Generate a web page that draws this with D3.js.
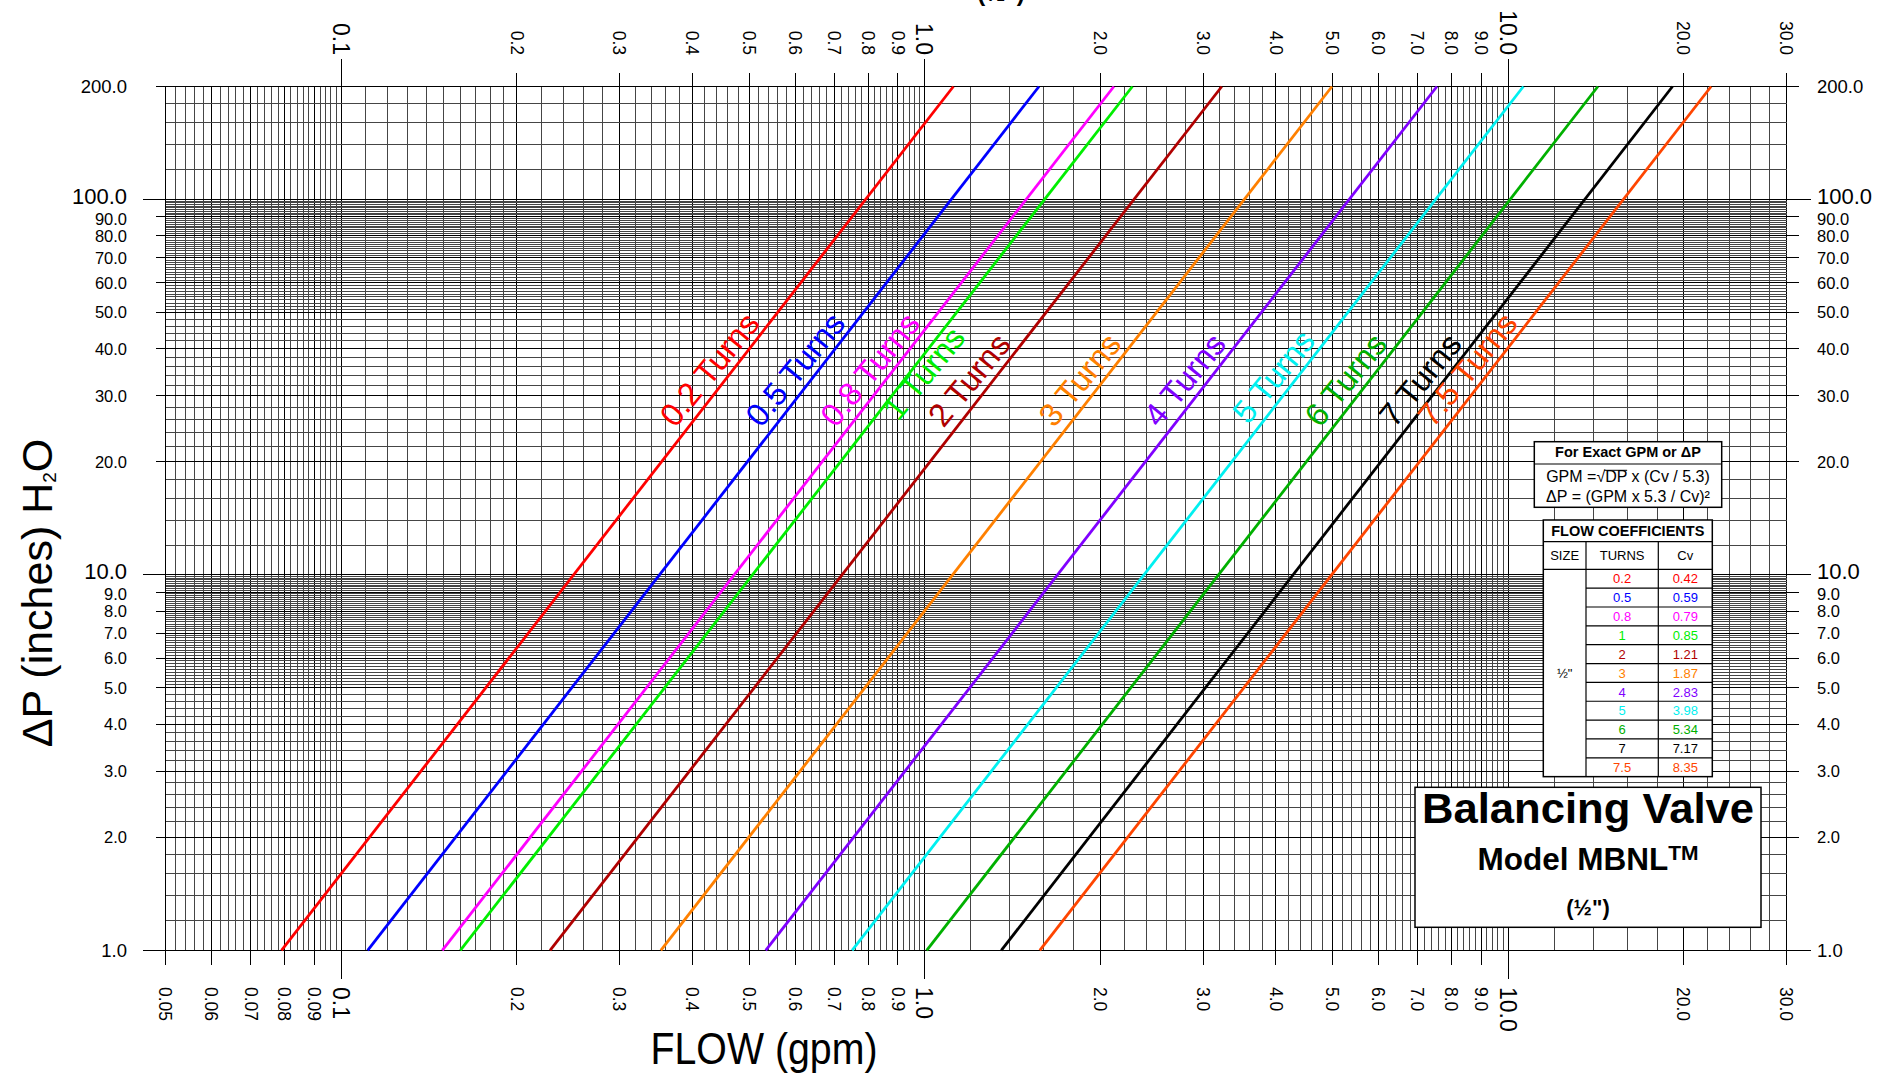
<!DOCTYPE html>
<html>
<head>
<meta charset="utf-8">
<script src="https://cdn.jsdelivr.net/npm/d3@7"></script>
<style>
  body { margin: 0; background: #fff; }
  text { font-family: "Liberation Sans", Arial, sans-serif; fill: #000; }
</style>
</head>
<body>
<div id="chart"></div>
<script>
// valve settings and flow coefficients (from the table)
const turns = ["0.2", "0.5", "0.8", "1", "2", "3", "4", "5", "6", "7", "7.5"];
const cvValues = ["0.42", "0.59", "0.79", "0.85", "1.21", "1.87", "2.83", "3.98", "5.34", "7.17", "8.35"];

// flow (gpm) where each line meets dP = 1 and dP = 200
const flowAtLow = [0.079, 0.111, 0.149, 0.160, 0.228, 0.353, 0.534, 0.751, 1.008, 1.353, 1.575];
const flowAtHigh = [1.12, 1.57, 2.11, 2.27, 3.23, 4.99, 7.55, 10.62, 14.25, 19.13, 22.28];
const dpLow = 1, dpHigh = 200;

// dP where each "n Turns" label starts along its line
const labelDp = [24.5, 24.5, 24.5, 25.5, 24.5, 24.5, 24.5, 25, 24.5, 24.5, 24.5];

// axis ticks
const xTicks = [0.05, 0.06, 0.07, 0.08, 0.09, 0.1, 0.2, 0.3, 0.4, 0.5, 0.6, 0.7, 0.8, 0.9,
  1, 2, 3, 4, 5, 6, 7, 8, 9, 10, 20, 30];
const xTopTicks = xTicks.filter(v => v >= 0.1);
const xMajor = [0.1, 1, 10];
const yTicks = [1, 2, 3, 4, 5, 6, 7, 8, 9, 10, 20, 30, 40, 50, 60, 70, 80, 90, 100, 200];
const yMajor = [1, 10, 100];

// grid spacing per range: [from, to, step]
const xGridRuns = [[0.05, 0.1, 0.002], [0.1, 0.2, 0.01], [0.2, 1, 0.02], [1, 10, 0.2], [10, 30, 2]];
const yGridRuns = [[1, 5, 0.2], [5, 10, 0.1], [10, 50, 2], [50, 100, 1], [100, 200, 20]];

const colors = ["#ff0000", "#0000ff", "#ff00ff", "#00ee00", "#b00000", "#ff8000",
  "#8000ff", "#00f0f0", "#00b000", "#000000", "#ff4500"];

const W = 1896, H = 1078;
const svg = d3.select("#chart").append("svg")
  .attr("width", W).attr("height", H)
  .style("display", "block");
svg.append("rect").attr("width", W).attr("height", H).attr("fill", "#fff");

const x = d3.scaleLog().domain([0.05, 30]).range([165.6, 1786.5]);
const y = d3.scaleLog().domain([1, 200]).range([950.4, 86.5]);

function runValues(runs) {
  const out = [];
  runs.forEach(([a, b, s]) => {
    d3.range(Math.round(a / s), Math.round(b / s) + 1).forEach(i => out.push(+(i * s).toFixed(4)));
  });
  return Array.from(new Set(out));
}
const fmt = v => v < 0.1 ? v.toFixed(2) : v.toFixed(1);

// grid
const grid = svg.append("g").attr("shape-rendering", "crispEdges");
runValues(xGridRuns).forEach(v => {
  const major = xTicks.some(t => Math.abs(t - v) < 1e-6);
  grid.append("line")
    .attr("x1", x(v)).attr("x2", x(v)).attr("y1", y(200)).attr("y2", y(1))
    .attr("stroke", major ? "#000" : "#454545").attr("stroke-width", 1);
});
runValues(yGridRuns).forEach(v => {
  const major = yTicks.some(t => Math.abs(t - v) < 1e-6);
  grid.append("line")
    .attr("y1", y(v)).attr("y2", y(v)).attr("x1", x(0.05)).attr("x2", x(30))
    .attr("stroke", major ? "#000" : "#454545").attr("stroke-width", 1);
});

// axes
const axisG = svg.append("g").attr("shape-rendering", "crispEdges");
xTicks.forEach(v => {
  const big = xMajor.includes(v);
  axisG.append("line").attr("x1", x(v)).attr("x2", x(v))
    .attr("y1", y(1)).attr("y2", y(1) + (big ? 29 : 15)).attr("stroke", "#000");
  svg.append("text")
    .attr("transform", `translate(${x(v)},987) rotate(90)`)
    .attr("dy", "0.36em")
    .attr("font-size", big ? 23 : 17.5)
    .text(fmt(v));
});
xTopTicks.forEach(v => {
  const big = xMajor.includes(v);
  axisG.append("line").attr("x1", x(v)).attr("x2", x(v))
    .attr("y1", y(200)).attr("y2", y(200) - (big ? 28 : 14)).attr("stroke", "#000");
  svg.append("text")
    .attr("transform", `translate(${x(v)},55) rotate(90)`)
    .attr("dy", "0.36em")
    .attr("text-anchor", "end")
    .attr("font-size", big ? 23 : 17.5)
    .text(fmt(v));
});
yTicks.forEach(v => {
  const big = yMajor.includes(v);
  const size = (v === 10 || v === 100) ? 22 : (v === 1 || v === 200) ? 18.5 : 16.5;
  axisG.append("line").attr("x1", x(0.05)).attr("x2", x(0.05) - (big ? 23 : 10))
    .attr("y1", y(v)).attr("y2", y(v)).attr("stroke", "#000");
  axisG.append("line").attr("x1", x(30)).attr("x2", x(30) + (big ? 24 : 12))
    .attr("y1", y(v)).attr("y2", y(v)).attr("stroke", "#000");
  const dy = (v === 10 || v === 100) ? "0.2em" : (v === 90 || v === 9) ? "0.5em" : "0.36em";
  svg.append("text").attr("x", 127).attr("y", y(v)).attr("dy", dy)
    .attr("text-anchor", "end").attr("font-size", size).text(v.toFixed(1));
  svg.append("text").attr("x", 1817).attr("y", y(v)).attr("dy", dy)
    .attr("font-size", size).text(v.toFixed(1));
});

// axis titles
svg.append("text").attr("x", 764).attr("y", 1064).attr("text-anchor", "middle")
  .attr("font-size", 44).attr("textLength", 227).attr("lengthAdjust", "spacingAndGlyphs")
  .text("FLOW (gpm)");
const yt = svg.append("text")
  .attr("transform", "translate(52,593) rotate(-90)")
  .attr("text-anchor", "middle").attr("font-size", 43);
yt.append("tspan").text("\u0394P (inches) H");
yt.append("tspan").attr("font-size", 19).attr("dy", 4).text("2");
yt.append("tspan").attr("dy", -4).text("O");

// cut-off heading at the very top
svg.append("text").attr("x", 1001).attr("y", 1).attr("text-anchor", "middle")
  .attr("font-size", 24).attr("font-weight", "bold").text("(\u00bd\")");

// flow lines
const lineGen = d3.line().x(d => x(d[0])).y(d => y(d[1]));
const series = turns.map((t, i) => ({
  turns: t, color: colors[i],
  pts: [[flowAtLow[i], dpLow], [flowAtHigh[i], dpHigh]]
}));
svg.append("g").selectAll("path").data(series).join("path")
  .attr("d", d => lineGen(d.pts))
  .attr("fill", "none").attr("stroke", d => d.color).attr("stroke-width", 2.8);

// line labels
series.forEach((s, i) => {
  const [x0, y0] = [x(s.pts[0][0]), y(s.pts[0][1])];
  const [x1, y1] = [x(s.pts[1][0]), y(s.pts[1][1])];
  const py = y(labelDp[i]);
  const px = x0 + (py - y0) / (y1 - y0) * (x1 - x0);
  const ang = Math.atan2(y1 - y0, x1 - x0) * 180 / Math.PI + 1.5;
  const side = s.turns === "1" ? 27 : -12;
  svg.append("text")
    .attr("transform", `translate(${px + side},${py}) rotate(${ang})`)
    .attr("font-size", 32.5).style("fill", s.color)
    .text(s.turns + " Turns");
});

// formula box
const fb = svg.append("g");
fb.append("rect").attr("x", 1534.3).attr("y", 441.7).attr("width", 187.4).attr("height", 65.6)
  .attr("fill", "#fff").attr("stroke", "#000").attr("stroke-width", 1.5);
fb.append("line").attr("x1", 1534.3).attr("x2", 1721.7).attr("y1", 464).attr("y2", 464)
  .attr("stroke", "#000").attr("stroke-width", 1.2);
fb.append("text").attr("x", 1628).attr("y", 457.3).attr("text-anchor", "middle")
  .attr("font-size", 14.5).attr("font-weight", "bold").text("For Exact GPM or \u0394P");
const f1 = fb.append("text").attr("x", 1628).attr("y", 482.3).attr("text-anchor", "middle")
  .attr("font-size", 16).text("GPM =\u221ADP x (Cv / 5.3)");
fb.append("text").attr("x", 1628).attr("y", 501.7).attr("text-anchor", "middle")
  .attr("font-size", 16).text("\u0394P = (GPM x 5.3 / Cv)\u00b2");
const eD = f1.node().getExtentOfChar(6), eP = f1.node().getExtentOfChar(7);
fb.append("line").attr("x1", eD.x - 1).attr("x2", eP.x + eP.width)
  .attr("y1", eD.y + 2).attr("y2", eD.y + 2).attr("stroke", "#000").attr("stroke-width", 1);

// flow coefficient table
const tb = svg.append("g");
const tx0 = 1543.3, tx1 = 1586, tx2 = 1658.3, tx3 = 1712.3;
const ty0 = 520, ty1 = 541.7, ty2 = 569.3, rowH = 18.85;
const ty3 = ty2 + rowH * turns.length;
tb.append("rect").attr("x", tx0).attr("y", ty0).attr("width", tx3 - tx0).attr("height", ty3 - ty0)
  .attr("fill", "#fff").attr("stroke", "#000").attr("stroke-width", 1.5);
[ty1, ty2].forEach(v => tb.append("line").attr("x1", tx0).attr("x2", tx3)
  .attr("y1", v).attr("y2", v).attr("stroke", "#000").attr("stroke-width", 1.2));
[tx1, tx2].forEach(v => tb.append("line").attr("x1", v).attr("x2", v)
  .attr("y1", ty1).attr("y2", ty3).attr("stroke", "#000").attr("stroke-width", 1.2));
turns.forEach((t, i) => {
  if (i > 0) tb.append("line").attr("x1", tx1).attr("x2", tx3)
    .attr("y1", ty2 + rowH * i).attr("y2", ty2 + rowH * i).attr("stroke", "#000").attr("stroke-width", 1.2);
  const cy = ty2 + rowH * (i + 0.5);
  tb.append("text").attr("x", (tx1 + tx2) / 2).attr("y", cy).attr("dy", "0.36em")
    .attr("text-anchor", "middle").attr("font-size", 13).style("fill", colors[i]).text(t);
  tb.append("text").attr("x", (tx2 + tx3) / 2).attr("y", cy).attr("dy", "0.36em")
    .attr("text-anchor", "middle").attr("font-size", 13).style("fill", colors[i]).text(cvValues[i]);
});
tb.append("text").attr("x", (tx0 + tx3) / 2).attr("y", 536).attr("text-anchor", "middle")
  .attr("font-size", 14.5).attr("font-weight", "bold").text("FLOW COEFFICIENTS");
[["SIZE", (tx0 + tx1) / 2], ["TURNS", (tx1 + tx2) / 2], ["Cv", (tx2 + tx3) / 2]].forEach(([t, cx]) =>
  tb.append("text").attr("x", cx).attr("y", (ty1 + ty2) / 2).attr("dy", "0.36em")
    .attr("text-anchor", "middle").attr("font-size", 13).text(t));
tb.append("text").attr("x", (tx0 + tx1) / 2).attr("y", (ty2 + ty3) / 2).attr("dy", "0.36em")
  .attr("text-anchor", "middle").attr("font-size", 13).text("\u00bd\"");

// title box
const bx = svg.append("g");
bx.append("rect").attr("x", 1415).attr("y", 787.3).attr("width", 346).attr("height", 140)
  .attr("fill", "#fff").attr("stroke", "#000").attr("stroke-width", 1.5);
bx.append("text").attr("x", 1588).attr("y", 823.3).attr("text-anchor", "middle")
  .attr("font-size", 42).attr("font-weight", "bold")
  .attr("textLength", 332).attr("lengthAdjust", "spacingAndGlyphs").text("Balancing Valve");
const mt = bx.append("text").attr("x", 1588).attr("y", 870).attr("text-anchor", "middle")
  .attr("font-size", 31.5).attr("font-weight", "bold");
mt.append("tspan").text("Model MBNL");
mt.append("tspan").attr("font-size", 21).attr("dy", -10).text("TM");
bx.append("text").attr("x", 1588).attr("y", 915).attr("text-anchor", "middle")
  .attr("font-size", 22).attr("font-weight", "bold").text("(\u00bd\")");
</script>
</body>
</html>
